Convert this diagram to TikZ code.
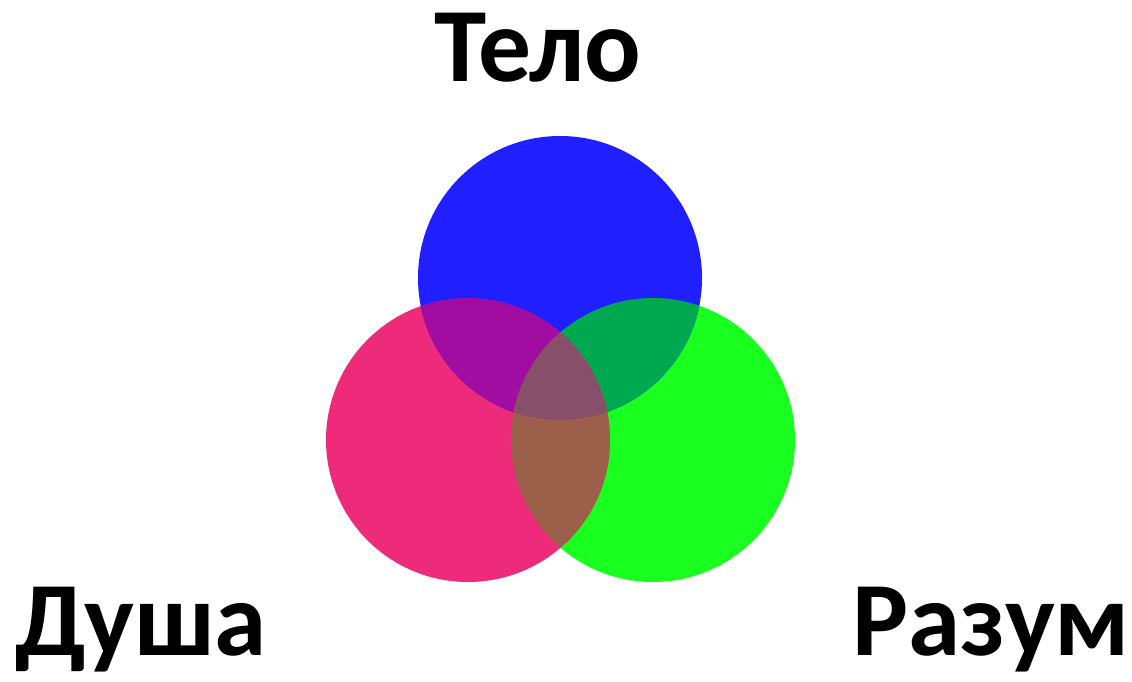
\documentclass[tikz,border=0pt]{standalone}
\usepackage{fontspec}
\setmainfont{Carlito}
\definecolor{bodyblue}{HTML}{1F1FFF}
\definecolor{soulpink}{HTML}{EE2A7B}
\definecolor{mindgreen}{HTML}{19FF1F}
\definecolor{bodysoul}{HTML}{A00DA0}
\definecolor{bodymind}{HTML}{00A850}
\definecolor{soulmind}{HTML}{9B5F4A}
\definecolor{allthree}{HTML}{875068}
\begin{document}
\begin{tikzpicture}[x=0.02cm, y=-0.02cm,
  word/.style={font=\fontsize{60}{60}\selectfont\bfseries, inner sep=0pt, anchor=base},
  bigword/.style={word, font=\fontsize{60}{60}\selectfont\bfseries}
]
  \useasboundingbox (0,0) rectangle (1132,682);
  \coordinate (body) at (560,278);
  \coordinate (soul) at (468,440);
  \coordinate (mind) at (653,440);
  % base circles
  \fill[mindgreen] (mind) circle (142);
  \fill[soulpink] (soul) circle (142);
  \fill[bodyblue] (body) circle (142);
  % overlaps
  \begin{scope}
    \clip (body) circle (142);
    \fill[bodysoul] (soul) circle (142);
    \fill[bodymind] (mind) circle (142);
  \end{scope}
  \begin{scope}
    \clip (soul) circle (142);
    \fill[soulmind] (mind) circle (142);
    \clip (mind) circle (142);
    \fill[allthree] (body) circle (142);
  \end{scope}
  % labels
  \node[bigword] (telo) at (538,82) {Тело};
  \node[word] (dusha) at (141,655) {Душа};
  \node[word] (razum) at (991,655) {Разум};
\end{tikzpicture}
\end{document}
